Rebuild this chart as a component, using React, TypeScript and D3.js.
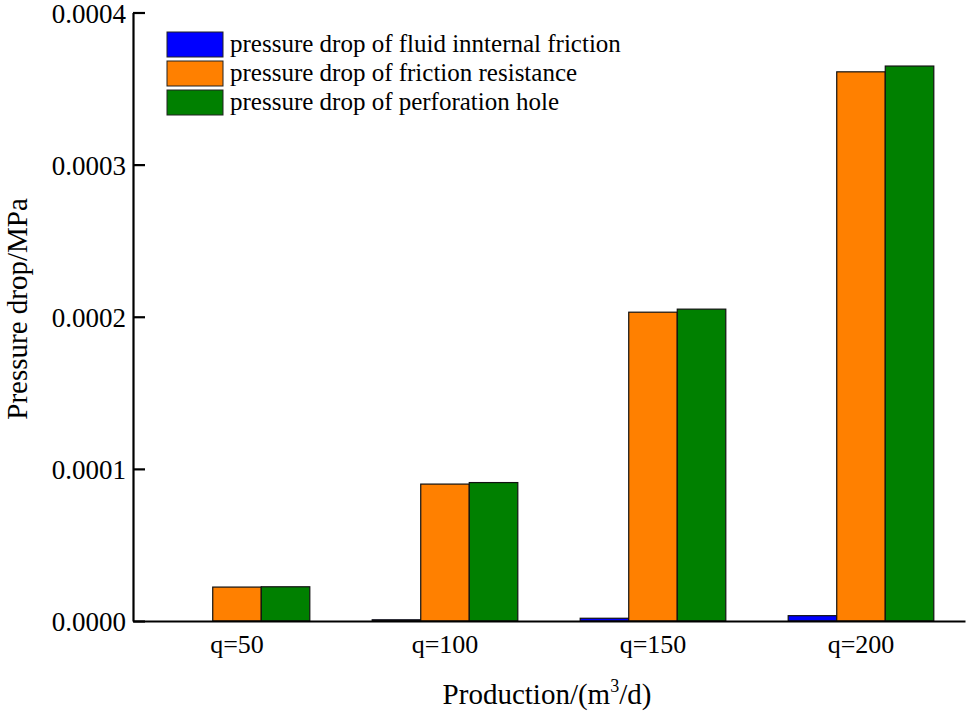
import React, { useEffect, useRef } from 'react';
import * as d3 from 'd3';

const categories = ['q=50', 'q=100', 'q=150', 'q=200'];
const seriesNames = [
  'pressure drop of fluid innternal friction',
  'pressure drop of friction resistance',
  'pressure drop of perforation hole',
];
const fluidFriction = [0, 0.0000008, 0.0000018, 0.0000035];
const frictionResistance = [0.0000223, 0.00009, 0.000203, 0.000361];
const perforationHole = [0.0000225, 0.000091, 0.000205, 0.0003648];
const yTicks = [0, 0.0001, 0.0002, 0.0003, 0.0004];
const colors = ['#0000ff', '#ff8000', '#008000'];

const FONT = '"Liberation Serif", "Times New Roman", serif';

const App: React.FC = () => {
  const svgRef = useRef<SVGSVGElement>(null);

  useEffect(() => {
    if (!svgRef.current) return;
    const svg = d3.select(svgRef.current);
    svg.selectAll('*').remove();

    const left = 133;
    const right = 965;
    const top = 12.5;
    const bottom = 621;

    const series = [fluidFriction, frictionResistance, perforationHole];

    const x0 = d3
      .scaleBand()
      .domain(categories)
      .range([left, right])
      .paddingInner(0.3)
      .paddingOuter(0.15);

    const x1 = d3
      .scaleBand()
      .domain(seriesNames)
      .range([0, x0.bandwidth()]);

    const y = d3.scaleLinear().domain([0, 0.0004]).range([bottom, top]);

    // bars
    series.forEach((vals, si) => {
      svg
        .append('g')
        .selectAll('rect')
        .data(vals)
        .enter()
        .append('rect')
        .attr('x', (d, i) => (x0(categories[i]) || 0) + (x1(seriesNames[si]) || 0))
        .attr('y', (d) => y(d))
        .attr('width', x1.bandwidth())
        .attr('height', (d) => bottom - y(d))
        .attr('fill', colors[si])
        .attr('stroke', '#111')
        .attr('stroke-width', (d) => (d > 0 ? 1.2 : 0));
    });

    // y axis
    const yAxis = d3
      .axisLeft(y)
      .tickValues(yTicks)
      .tickFormat(d3.format('.4f'))
      .tickSizeInner(-12)
      .tickSizeOuter(0)
      .tickPadding(20);
    const gy = svg
      .append('g')
      .attr('transform', `translate(${left},0)`)
      .call(yAxis);
    gy.select('.domain').attr('stroke', '#000').attr('stroke-width', 2.2);
    gy.selectAll('.tick line').attr('stroke', '#000').attr('stroke-width', 2.2);
    gy.selectAll('.tick text')
      .attr('font-family', FONT)
      .attr('font-size', 27)
      .attr('fill', '#000')
      .attr('dy', '0.36em')
      .attr('x', -7);

    // x axis
    const xAxis = d3.axisBottom(x0).tickSize(0).tickPadding(14);
    const gx = svg
      .append('g')
      .attr('transform', `translate(0,${bottom})`)
      .call(xAxis);
    gx.select('.domain').attr('stroke', '#000').attr('stroke-width', 2.2);
    gx.selectAll('.tick text')
      .attr('font-family', FONT)
      .attr('font-size', 26)
      .attr('fill', '#000');

    // axis titles
    const xt = svg
      .append('text')
      .attr('x', 547)
      .attr('y', 704)
      .attr('text-anchor', 'middle')
      .attr('font-family', FONT)
      .attr('font-size', 29)
      .attr('fill', '#000');
    xt.append('tspan').text('Production/(m');
    xt.append('tspan').attr('dy', -12).attr('font-size', 18).text('3');
    xt.append('tspan').attr('dy', 12).text('/d)');

    svg
      .append('text')
      .attr('transform', `translate(27,309) rotate(-90)`)
      .attr('text-anchor', 'middle')
      .attr('font-family', FONT)
      .attr('font-size', 29)
      .attr('fill', '#000')
      .text('Pressure drop/MPa');

    // legend
    const legend = svg.append('g').attr('transform', 'translate(167,32)');
    seriesNames.forEach((name, i) => {
      const row = legend.append('g').attr('transform', `translate(0,${i * 29})`);
      row
        .append('rect')
        .attr('width', 56)
        .attr('height', 25)
        .attr('fill', colors[i])
        .attr('stroke', '#222')
        .attr('stroke-width', 1);
      row
        .append('text')
        .attr('x', 63)
        .attr('y', 20)
        .attr('font-family', FONT)
        .attr('font-size', 25)
        .attr('fill', '#000')
        .text(name);
    });
  }, []);

  return (
    <svg
      ref={svgRef}
      width={967}
      height={714}
      style={{ position: 'absolute', left: 0, top: 0, background: '#fff' }}
    />
  );
};

export default App;
